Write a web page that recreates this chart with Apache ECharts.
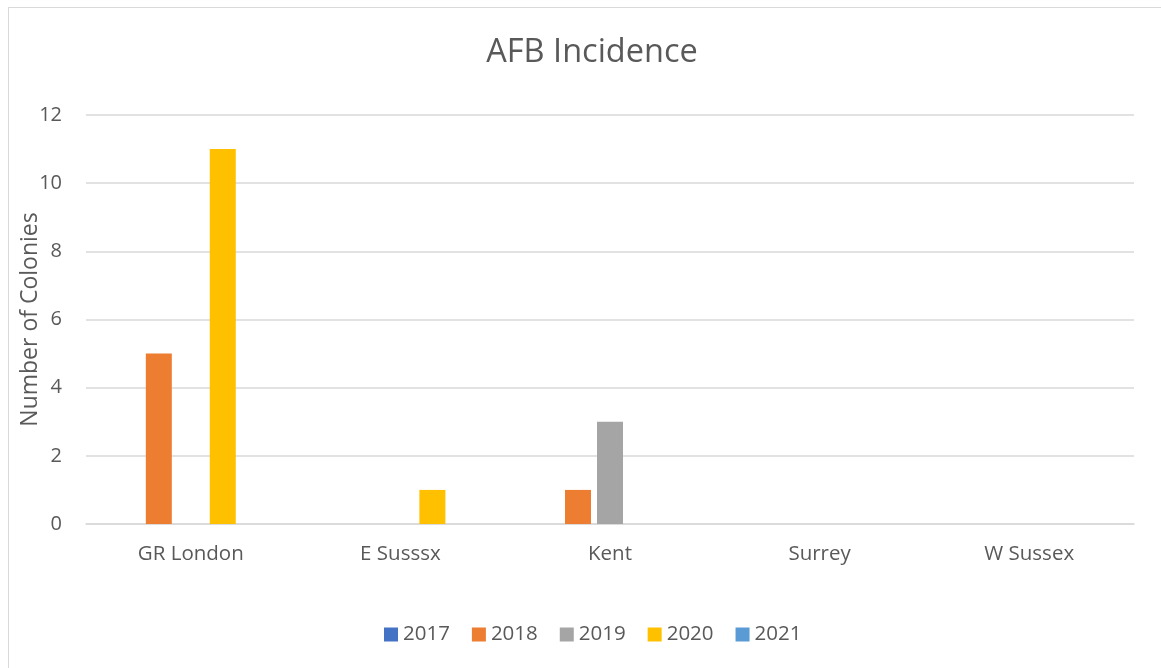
<!DOCTYPE html>
<html>
<head>
<meta charset="utf-8">
<script src="https://cdn.jsdelivr.net/npm/echarts@6/dist/echarts.min.js"></script>
<style>
    html, body { margin: 0; padding: 0; background: #fff; overflow: hidden; }
    #frame { position: absolute; left: 8px; top: 7px; width: 1200px; height: 700px; border: 1px solid #d9d9d9; }
    #chart { position: absolute; left: 0; top: 0; width: 1161px; height: 668px; }
</style>
</head>
<body>
<div id="frame"></div>
<div id="chart"></div>
<script>
const regions = ['GR London', 'E Susssx', 'Kent', 'Surrey', 'W Sussex']
const years = ['2017', '2018', '2019', '2020', '2021']
const colours = ['#4472c4', '#ed7d31', '#a5a5a5', '#ffc000', '#5b9bd5']
const counts2017 = [0, 0, 0, 0, 0]
const counts2018 = [5, 0, 1, 0, 0]
const counts2019 = [0, 0, 3, 0, 0]
const counts2020 = [11, 1, 0, 0, 0]
const counts2021 = [0, 0, 0, 0, 0]
const yTicks = { min: 0, max: 12, interval: 2 }

const allCounts = [counts2017, counts2018, counts2019, counts2020, counts2021]
const font = '"Open Sans", "Noto Sans", sans-serif'

const chart = echarts.init(document.getElementById('chart'))

chart.setOption({
    animation: false,
    textStyle: { fontFamily: font },
    title: {
        text: 'AFB Incidence',
        left: 587,
        textAlign: 'center',
        top: 31,
        textStyle: { color: '#595959', fontSize: 32.5, fontWeight: 'normal', fontFamily: font },
    },
    grid: { left: 86, right: 27, top: 115, bottom: 144 },
    legend: {
        data: years,
        left: 379,
        top: 619,
        itemWidth: 14,
        itemHeight: 14,
        itemGap: 22,
        icon: 'rect',
        textStyle: { color: '#595959', fontSize: 20.5, fontFamily: font },
    },
    xAxis: {
        type: 'category',
        data: regions,
        axisLine: { lineStyle: { color: '#d9d9d9', width: 1.5 } },
        axisTick: { show: false },
        axisLabel: { color: '#595959', fontSize: 20.5, margin: 20, fontFamily: font },
    },
    yAxis: {
        type: 'value',
        min: yTicks.min,
        max: yTicks.max,
        interval: yTicks.interval,
        name: 'Number of Colonies',
        nameLocation: 'middle',
        nameGap: 56,
        nameMoveOverlap: false,
        nameTextStyle: { color: '#595959', fontSize: 23, fontFamily: font, verticalAlign: 'middle' },
        axisLine: { show: false },
        axisTick: { show: false },
        axisLabel: { color: '#595959', fontSize: 20, margin: 24, fontFamily: font },
        splitLine: { lineStyle: { color: '#d9d9d9', width: 1.5 } },
    },
    series: years.map((year, i) => ({
        name: year,
        type: 'bar',
        data: allCounts[i],
        barWidth: 26,
        barGap: '23%',
        itemStyle: { color: colours[i] },
    })),
})
</script>
</body>
</html>
